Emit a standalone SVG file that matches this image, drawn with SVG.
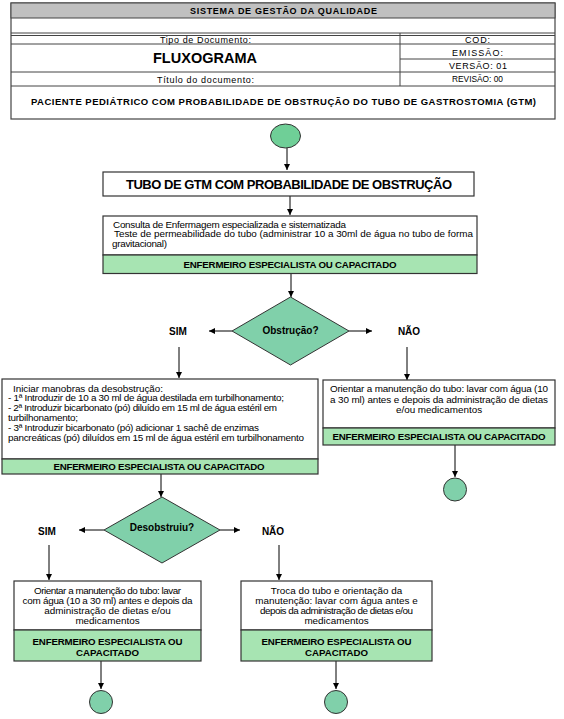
<svg xmlns="http://www.w3.org/2000/svg" width="564" height="719" viewBox="0 0 564 719">
<defs>
<marker id="ah" markerUnits="userSpaceOnUse" markerWidth="7" markerHeight="7" refX="6" refY="3" orient="auto"><path d="M0,0 L6,3 L0,6 z" fill="#000"/></marker>
<style>
text{font-family:"Liberation Sans",Arial,sans-serif;fill:#000}
.h{font-size:9px}
.b{font-weight:bold}
.box{fill:#fff;stroke:#333;stroke-width:1.2}
.band{fill:#a7e4b2;stroke:#333;stroke-width:1.2}
.dia{fill:#80d0aa;stroke:#333;stroke-width:1}
.line{stroke:#000;stroke-width:1;fill:none;marker-end:url(#ah)}
.t{font-size:9.9px}
.g{font-size:9.7px;font-weight:bold}
.hl{stroke:#444;stroke-width:1;fill:none}
</style>
</defs>
<rect width="564" height="719" fill="#fff"/>
<g id="header">
<rect x="11" y="3" width="544" height="116" fill="#fff" stroke="#444" stroke-width="1.2"/>
<rect x="11" y="3" width="544" height="15" fill="#c0c0c0" stroke="#444" stroke-width="1"/>
<path class="hl" d="M11,33 H555 M11,35.5 H555 M11,44 H555 M11,72 H555 M11,86 H555 M400,59 H555 M400,33 V86"/>
<text class="h b" x="283.5" y="14" text-anchor="middle" textLength="187" lengthAdjust="spacing">SISTEMA DE GESTÃO DA QUALIDADE</text>
<text class="h" x="205.5" y="42.5" text-anchor="middle" textLength="91" lengthAdjust="spacing">Tipo de Documento:</text>
<text x="205" y="63" text-anchor="middle" font-size="14" font-weight="bold" textLength="104" lengthAdjust="spacingAndGlyphs">FLUXOGRAMA</text>
<text class="h" x="205.5" y="83" text-anchor="middle" textLength="97" lengthAdjust="spacing">Título do documento:</text>
<text class="h" x="477.5" y="42.5" text-anchor="middle" textLength="25" lengthAdjust="spacing">COD:</text>
<text class="h" x="477.5" y="55.5" text-anchor="middle" textLength="51" lengthAdjust="spacing">EMISSÃO:</text>
<text class="h" x="478" y="69" text-anchor="middle" textLength="58" lengthAdjust="spacing">VERSÃO: 01</text>
<text class="h" x="477.5" y="82" text-anchor="middle" textLength="51" lengthAdjust="spacingAndGlyphs">REVISÃO: 00</text>
<text x="283.5" y="105" text-anchor="middle" font-size="9.5" font-weight="bold" textLength="505" lengthAdjust="spacing">PACIENTE PEDIÁTRICO COM PROBABILIDADE DE OBSTRUÇÃO DO TUBO DE GASTROSTOMIA (GTM)</text>
</g>
<g id="connectors">
<path class="line" d="M287,148 V170"/>
<path class="line" d="M290,196 V215"/>
<path class="line" d="M291,274 V297"/>
<path class="line" d="M232,331 H209"/>
<path class="line" d="M349,331 H372"/>
<path class="line" d="M179,347 V378"/>
<path class="line" d="M407,347 V380"/>
<path class="line" d="M161,474 V497"/>
<path class="line" d="M455,445 V477"/>
<path class="line" d="M104,530 H79"/>
<path class="line" d="M220,530 H240"/>
<path class="line" d="M49,545 V580"/>
<path class="line" d="M279,545 V580"/>
<path class="line" d="M101,661 V689"/>
<path class="line" d="M336,661 V689"/>
</g>
<g id="start"><ellipse cx="285.5" cy="136" rx="15" ry="12" fill="#6fcf97" stroke="#333" stroke-width="1"/></g>
<g id="tubo">
<rect class="box" x="103" y="172" width="371" height="24"/>
<text x="289" y="188.5" text-anchor="middle" font-size="13" font-weight="bold" textLength="326" lengthAdjust="spacing">TUBO DE GTM COM PROBABILIDADE DE OBSTRUÇÃO</text>
</g>
<g id="consulta">
<rect class="box" x="103" y="216" width="374" height="39"/>
<rect class="band" x="103" y="255" width="374" height="18.5"/>
<text class="t" x="113" y="227.5" textLength="233" lengthAdjust="spacing">Consulta de Enfermagem especializada e sistematizada</text>
<text class="t" x="114" y="237" textLength="359" lengthAdjust="spacing">Teste de permeabilidade do tubo (administrar 10 a 30ml de água no tubo de forma</text>
<text class="t" x="112" y="246.5" textLength="55" lengthAdjust="spacing">gravitacional)</text>
<text class="g" x="290" y="267.5" text-anchor="middle" textLength="213" lengthAdjust="spacing">ENFERMEIRO ESPECIALISTA OU CAPACITADO</text>
</g>
<g id="obstrucao">
<polygon class="dia" points="290.5,297 349,331 290.5,365 232,331"/>
<text x="290.5" y="334" text-anchor="middle" font-size="10" font-weight="bold">Obstrução?</text>
<text x="178" y="335" text-anchor="middle" font-size="10" font-weight="bold">SIM</text>
<text x="409" y="335" text-anchor="middle" font-size="10" font-weight="bold">NÃO</text>
</g>
<g id="manobras">
<rect class="box" x="2" y="379" width="316" height="80"/>
<rect class="band" x="2" y="459" width="316" height="15"/>
<text class="t" x="13" y="391.5" textLength="150" lengthAdjust="spacing">Iniciar manobras da desobstrução:</text>
<text class="t" x="8" y="401.3" textLength="276" lengthAdjust="spacing">- 1ª Introduzir de 10 a 30 ml de água destilada em turbilhonamento;</text>
<text class="t" x="8" y="411.1" textLength="269" lengthAdjust="spacing">- 2ª Introduzir bicarbonato (pó) diluído em 15 ml de água estéril em</text>
<text class="t" x="8" y="420.9" textLength="70" lengthAdjust="spacing">turbilhonamento;</text>
<text class="t" x="8" y="430.7" textLength="251" lengthAdjust="spacing">- 3ª Introduzir bicarbonato (pó) adicionar 1 sachê de enzimas</text>
<text class="t" x="8" y="440.5" textLength="296" lengthAdjust="spacing">pancreáticas (pó) diluídos em 15 ml de água estéril em turbilhonamento</text>
<text class="g" x="159" y="469.5" text-anchor="middle" textLength="211" lengthAdjust="spacing">ENFERMEIRO ESPECIALISTA OU CAPACITADO</text>
</g>
<g id="orientar1">
<rect class="box" x="323" y="380" width="232" height="48"/>
<rect class="band" x="323" y="428" width="232" height="17"/>
<text class="t" x="439" y="392" text-anchor="middle" textLength="218" lengthAdjust="spacing">Orientar a manutenção do tubo: lavar com água (10</text>
<text class="t" x="439" y="402.5" text-anchor="middle" textLength="218" lengthAdjust="spacing">a 30 ml) antes e depois da administração de dietas</text>
<text class="t" x="439" y="413" text-anchor="middle">e/ou medicamentos</text>
<text class="g" x="439" y="440" text-anchor="middle" textLength="213" lengthAdjust="spacing">ENFERMEIRO ESPECIALISTA OU CAPACITADO</text>
</g>
<g id="fim1"><circle cx="455" cy="489.5" r="11.5" fill="#80d0aa" stroke="#333" stroke-width="1"/></g>
<g id="desobstruiu">
<polygon class="dia" points="162,497 220,530 162,563 104,530"/>
<text x="162" y="531" text-anchor="middle" font-size="10" font-weight="bold">Desobstruiu?</text>
<text x="47" y="534.5" text-anchor="middle" font-size="10" font-weight="bold">SIM</text>
<text x="273" y="534.5" text-anchor="middle" font-size="10" font-weight="bold">NÃO</text>
</g>
<g id="orientar2">
<rect class="box" x="14" y="581" width="187" height="49"/>
<rect class="band" x="14" y="630" width="187" height="31"/>
<text class="t" x="107.5" y="593.5" text-anchor="middle" textLength="147" lengthAdjust="spacing">Orientar a manutenção do tubo: lavar</text>
<text class="t" x="107.5" y="603.8" text-anchor="middle" textLength="170" lengthAdjust="spacing">com água (10 a 30 ml) antes e depois da</text>
<text class="t" x="107.5" y="614.1" text-anchor="middle">administração de dietas e/ou</text>
<text class="t" x="107.5" y="624.4" text-anchor="middle">medicamentos</text>
<text class="g" x="107.5" y="644.5" text-anchor="middle" textLength="150" lengthAdjust="spacing">ENFERMEIRO ESPECIALISTA OU</text>
<text class="g" x="107.5" y="656" text-anchor="middle">CAPACITADO</text>
</g>
<g id="troca">
<rect class="box" x="241" y="581" width="191" height="49"/>
<rect class="band" x="241" y="630" width="191" height="31"/>
<text class="t" x="336.5" y="593.5" text-anchor="middle">Troca do tubo e orientação da</text>
<text class="t" x="336.5" y="603.8" text-anchor="middle">manutenção: lavar com água antes e</text>
<text class="t" x="336.5" y="614.1" text-anchor="middle" textLength="153" lengthAdjust="spacing">depois da administração de dietas e/ou</text>
<text class="t" x="336.5" y="624.4" text-anchor="middle">medicamentos</text>
<text class="g" x="336.5" y="644.5" text-anchor="middle" textLength="150" lengthAdjust="spacing">ENFERMEIRO ESPECIALISTA OU</text>
<text class="g" x="336.5" y="656" text-anchor="middle">CAPACITADO</text>
</g>
<g id="fim2"><circle cx="101" cy="702" r="11.5" fill="#80d0aa" stroke="#333" stroke-width="1"/></g>
<g id="fim3"><circle cx="336" cy="702" r="11.5" fill="#80d0aa" stroke="#333" stroke-width="1"/></g>
</svg>
